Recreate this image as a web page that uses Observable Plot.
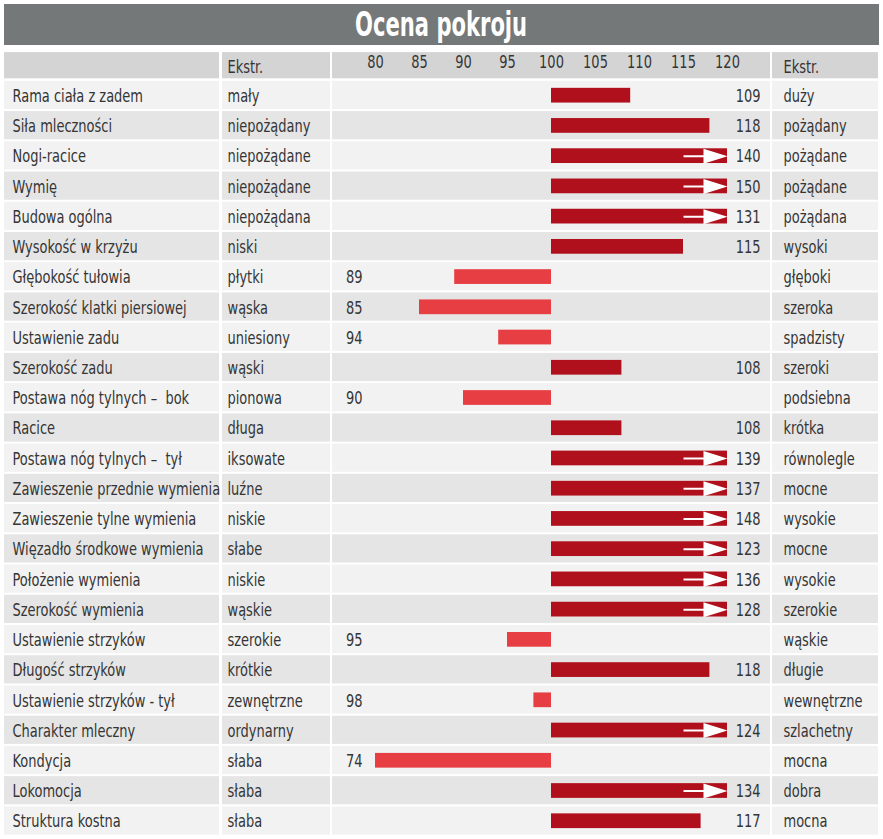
<!DOCTYPE html>
<html>
<head>
<meta charset="utf-8">
<script src="https://cdn.jsdelivr.net/npm/d3@7"></script>
<script src="https://cdn.jsdelivr.net/npm/@observablehq/plot@0.6"></script>
<style>
  html, body { margin: 0; padding: 0; background: #fff; }
  body { width: 883px; font-family: "DejaVu Sans Condensed", "DejaVu Sans", sans-serif; font-stretch: condensed; }
  #title { margin: 4px 4px 3px 4px; height: 41px; width: 875px; background: #747878; color: #fff;
           font-weight: bold; font-size: 33px; line-height: 41px; text-align: center; overflow: hidden; }
  #title span { display: inline-block; transform: scaleX(0.71); transform-origin: center; }
  #chart svg { display: block; }
</style>
</head>
<body>
<div id="title"><span>Ocena pokroju</span></div>
<div id="chart"></div>
<script>
const traits = [
  "Rama ciała z zadem", "Siła mleczności", "Nogi-racice", "Wymię", "Budowa ogólna",
  "Wysokość w krzyżu", "Głębokość tułowia", "Szerokość klatki piersiowej", "Ustawienie zadu",
  "Szerokość zadu", "Postawa nóg tylnych –  bok", "Racice", "Postawa nóg tylnych –  tył",
  "Zawieszenie przednie wymienia", "Zawieszenie tylne wymienia", "Więzadło środkowe wymienia",
  "Położenie wymienia", "Szerokość wymienia", "Ustawienie strzyków", "Długość strzyków",
  "Ustawienie strzyków - tył", "Charakter mleczny", "Kondycja", "Lokomocja", "Struktura kostna"
];
const lowExtremes = [
  "mały", "niepożądany", "niepożądane", "niepożądane", "niepożądana", "niski", "płytki", "wąska",
  "uniesiony", "wąski", "pionowa", "długa", "iksowate", "luźne", "niskie", "słabe", "niskie",
  "wąskie", "szerokie", "krótkie", "zewnętrzne", "ordynarny", "słaba", "słaba", "słaba"
];
const highExtremes = [
  "duży", "pożądany", "pożądane", "pożądane", "pożądana", "wysoki", "głęboki", "szeroka",
  "spadzisty", "szeroki", "podsiebna", "krótka", "równolegle", "mocne", "wysokie", "mocne",
  "wysokie", "szerokie", "wąskie", "długie", "wewnętrzne", "szlachetny", "mocna", "dobra", "mocna"
];
const scores = [109, 118, 140, 150, 131, 115, 89, 85, 94, 108, 90, 108, 139, 137, 148, 123, 136, 128, 95, 118, 98, 124, 74, 134, 117];
const xTicks = [80, 85, 90, 95, 100, 105, 110, 115, 120];
const headerLabel = "Ekstr.";
const HEADER = "__header";

const rows = traits.map((name, i) => ({name, low: lowExtremes[i], high: highExtremes[i], value: scores[i], i}));
const xMin = xTicks[0], xMax = xTicks[xTicks.length - 1], base = 100;
const clampX = v => Math.max(xMin, Math.min(xMax, v));

const W = 883;
const columns = [[4, 219], [222, 330], [332, 770], [772, 878]];
const FONT = "'DejaVu Sans Condensed', 'DejaVu Sans', sans-serif";
const TXT = "#353535";
const FS = 17;
const SQUEEZE = 0.85;

// custom arrow symbol: thin white line plus elongated triangle, tip at the anchor point
const arrowSymbol = {
  draw(ctx) {
    ctx.moveTo(-44, -1); ctx.lineTo(-22, -1); ctx.lineTo(-22, 1); ctx.lineTo(-44, 1); ctx.closePath();
    ctx.moveTo(-24, -7.5); ctx.lineTo(0, 0); ctx.lineTo(-24, 7.5); ctx.closePath();
  }
};

const gridData = rows.flatMap(r => xTicks.map(t => ({name: r.name, t})));

const marks = [];
for (const [c0, c1] of columns) {
  marks.push(Plot.cell([HEADER], {y: d => d, fill: "#d5d4d5", insetLeft: c0, insetRight: W - c1, insetTop: 2.5, insetBottom: 1.5}));
  marks.push(Plot.cell(rows.filter(r => r.i % 2 === 0), {y: "name", fill: "#f2f2f2", insetLeft: c0, insetRight: W - c1, insetTop: 1, insetBottom: 1}));
  marks.push(Plot.cell(rows.filter(r => r.i % 2 === 1), {y: "name", fill: "#e5e5e5", insetLeft: c0, insetRight: W - c1, insetTop: 1, insetBottom: 1}));
}
marks.push(
  Plot.ruleX(gridData, {x: "t", y: "name", stroke: "#c6c6c6", strokeWidth: 1.6}),
  Plot.barX(rows.filter(r => r.value >= base), {x1: () => base, x2: d => clampX(d.value), y: "name", fill: "#b0101c", insetTop: 8, insetBottom: 7.5}),
  Plot.barX(rows.filter(r => r.value < base), {x1: () => base, x2: d => clampX(d.value), y: "name", fill: "#e63e42", insetTop: 8, insetBottom: 7.5}),
  Plot.dot(rows.filter(r => r.value > xMax), {x: () => xMax, y: "name", symbol: arrowSymbol, fill: "white", stroke: "none", dy: 0.3}),
  Plot.axisX(xTicks, {anchor: "top", tickSize: 0, dy: 28, fontSize: FS, fill: TXT, fontFamily: FONT, label: null}),
  Plot.text(rows, {y: "name", text: "name", frameAnchor: "left", textAnchor: "start", dx: 12, dy: 1, fontSize: FS, fill: TXT}),
  Plot.text(rows, {y: "name", text: "low", frameAnchor: "left", textAnchor: "start", dx: 227, dy: 1, fontSize: FS, fill: TXT}),
  Plot.text(rows, {y: "name", text: "high", frameAnchor: "left", textAnchor: "start", dx: 783, dy: 1, fontSize: FS, fill: TXT}),
  Plot.text(rows.filter(r => r.value < base), {y: "name", x: () => xMin, text: d => String(d.value), textAnchor: "end", dx: -13, dy: 1, fontSize: FS, fill: TXT}),
  Plot.text(rows.filter(r => r.value > base), {y: "name", x: () => xMax, text: d => String(d.value), textAnchor: "end", dx: 33, dy: 1, fontSize: FS, fill: TXT}),
  Plot.text([HEADER], {y: d => d, text: () => headerLabel, frameAnchor: "left", textAnchor: "start", dx: 227, dy: 2, fontSize: FS, fill: TXT}),
  Plot.text([HEADER], {y: d => d, text: () => headerLabel, frameAnchor: "left", textAnchor: "start", dx: 783, dy: 2, fontSize: FS, fill: TXT})
);

const chart = Plot.plot({
  width: W,
  height: 791,
  marginTop: 0,
  marginBottom: 0,
  marginLeft: 0,
  marginRight: 0,
  style: {fontFamily: FONT, fontSize: FS + "px", background: "white"},
  x: {domain: [xMin, xMax], range: [375, 727], axis: null},
  y: {domain: [HEADER, ...traits], range: [1.6, 787.6], padding: 0, round: false, axis: null},
  marks
});
// emulate the condensed typeface: narrow every label horizontally around its anchor
d3.select(chart).selectAll("text").each(function () {
  const t = this.getAttribute("transform") || "";
  this.setAttribute("transform", (t + ` scale(${SQUEEZE},1)`).trim());
});
document.getElementById("chart").appendChild(chart);
</script>
</body>
</html>
